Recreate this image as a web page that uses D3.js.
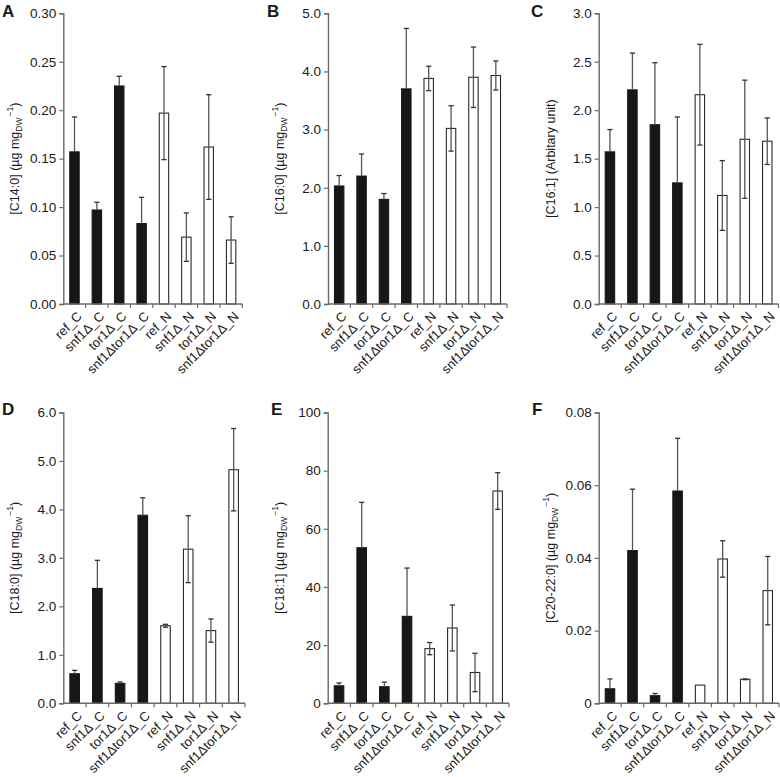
<!DOCTYPE html>
<html>
<head>
<meta charset="utf-8">
<script src="https://cdn.jsdelivr.net/npm/d3@7"></script>
<style>
  html, body { margin: 0; padding: 0; background: #fff; }
  svg { display: block; }
  text { font-family: "Liberation Sans", Arial, Helvetica, sans-serif; fill: #1a1a1a; }
</style>
</head>
<body>
<svg id="chart" width="780" height="777"></svg>
<script>
// ---- data ----
const categories = ["ref_C", "snf1Δ_C", "tor1Δ_C", "snf1Δtor1Δ_C", "ref_N", "snf1Δ_N", "tor1Δ_N", "snf1Δtor1Δ_N"];
const filled = [true, true, true, true, false, false, false, false];

const c140Mean = [0.157, 0.097, 0.225, 0.083, 0.197, 0.069, 0.162, 0.066];
const c140Err  = [0.036, 0.008, 0.010, 0.027, 0.048, 0.025, 0.054, 0.024];
const c140Ticks = [0, 0.05, 0.10, 0.15, 0.20, 0.25, 0.30];

const c160Mean = [2.03, 2.20, 1.80, 3.70, 3.88, 3.02, 3.90, 3.93];
const c160Err  = [0.18, 0.38, 0.10, 1.04, 0.21, 0.39, 0.52, 0.25];
const c160Ticks = [0, 1, 2, 3, 4, 5];

const c161Mean = [1.57, 2.21, 1.85, 1.25, 2.16, 1.12, 1.70, 1.68];
const c161Err  = [0.23, 0.38, 0.64, 0.68, 0.52, 0.36, 0.61, 0.24];
const c161Ticks = [0, 0.5, 1.0, 1.5, 2.0, 2.5, 3.0];

const c180Mean = [0.61, 2.37, 0.41, 3.88, 1.60, 3.18, 1.50, 4.82];
const c180Err  = [0.07, 0.58, 0.03, 0.36, 0.03, 0.69, 0.24, 0.85];
const c180Ticks = [0, 1, 2, 3, 4, 5, 6];

const c181Mean = [6.0, 53.5, 5.7, 29.9, 18.8, 25.9, 10.6, 73.0];
const c181Err  = [1.0, 15.6, 1.6, 16.6, 2.1, 7.9, 6.6, 6.3];
const c181Ticks = [0, 20, 40, 60, 80, 100];

const c2022Mean = [0.0040, 0.0420, 0.0021, 0.0584, 0.0050, 0.0397, 0.0066, 0.0310];
const c2022Err  = [0.0027, 0.0169, 0.0006, 0.0145, 0.0, 0.0050, 0.0001, 0.0094];
const c2022Ticks = [0, 0.02, 0.04, 0.06, 0.08];

const panelLetters = ["A", "B", "C", "D", "E", "F"];
const yTitles = ["[C14:0]", "[C16:0]", "[C16:1] (Arbitary unit)", "[C18:0]", "[C18:1]", "[C20-22:0]"];

// ---- layout ----
const panels = [
  { letter: "A", lx: 2,   ly: 17,  left: 63.3,  right: 242.3, top: 13.3,  bottom: 304,   mean: c140Mean,  err: c140Err,  ticks: c140Ticks,  fmt: d => d.toFixed(2), title: yTitles[0], unit: true },
  { letter: "B", lx: 267, ly: 17,  left: 328,   right: 507,   top: 13.3,  bottom: 304,   mean: c160Mean,  err: c160Err,  ticks: c160Ticks,  fmt: d => d.toFixed(1), title: yTitles[1], unit: true },
  { letter: "C", lx: 531, ly: 17,  left: 598.7, right: 778.5, top: 13.3,  bottom: 304,   mean: c161Mean,  err: c161Err,  ticks: c161Ticks,  fmt: d => d.toFixed(1), title: yTitles[2], unit: false },
  { letter: "D", lx: 2,   ly: 415, left: 63.3,  right: 245,   top: 412.5, bottom: 703.3, mean: c180Mean,  err: c180Err,  ticks: c180Ticks,  fmt: d => d.toFixed(1), title: yTitles[3], unit: true },
  { letter: "E", lx: 271, ly: 415, left: 327.7, right: 509,   top: 412.5, bottom: 703.3, mean: c181Mean,  err: c181Err,  ticks: c181Ticks,  fmt: d => String(d),    title: yTitles[4], unit: true },
  { letter: "F", lx: 532, ly: 415, left: 598.7, right: 779,   top: 412.5, bottom: 703.3, mean: c2022Mean, err: c2022Err, ticks: c2022Ticks, fmt: d => d === 0 ? "0" : d.toFixed(2), title: yTitles[5], unit: true }
];

const svg = d3.select("#chart");
const axisColor = "#6a6a6a";
const errColor = "#555";

panels.forEach(p => {
  const g = svg.append("g");
  const x = d3.scaleBand().domain(categories).range([p.left, p.right]).paddingInner(0.58).paddingOuter(0.29);
  const y = d3.scaleLinear().domain([p.ticks[0], p.ticks[p.ticks.length - 1]]).range([p.bottom, p.top]);
  const step = (p.right - p.left) / categories.length;

  // panel letter
  g.append("text").attr("x", p.lx).attr("y", p.ly)
    .attr("font-size", 17).attr("font-weight", "bold").text(p.letter);

  // bars
  const rows = categories.map((c, i) => ({ c, m: p.mean[i], e: p.err[i], f: filled[i] }));
  g.selectAll("rect.bar").data(rows).enter().append("rect")
    .attr("class", "bar")
    .attr("x", d => x(d.c))
    .attr("y", d => y(d.m))
    .attr("width", x.bandwidth())
    .attr("height", d => y(0) - y(d.m))
    .attr("fill", d => d.f ? "#171717" : "#ffffff")
    .attr("stroke", d => d.f ? "#171717" : "#2a2a2a")
    .attr("stroke-width", 1.1);

  // error bars
  const cap = 2.6;
  rows.forEach(d => {
    if (d.e <= 0) return;
    const cx = x(d.c) + x.bandwidth() / 2;
    const yTop = y(d.m + d.e);
    const yBot = d.f ? y(d.m) : y(d.m - d.e);
    g.append("line").attr("x1", cx).attr("x2", cx).attr("y1", yTop).attr("y2", yBot)
      .attr("stroke", errColor).attr("stroke-width", 1.3);
    g.append("line").attr("x1", cx - cap).attr("x2", cx + cap).attr("y1", yTop).attr("y2", yTop)
      .attr("stroke", "#333").attr("stroke-width", 1.3);
    if (!d.f) {
      g.append("line").attr("x1", cx - cap).attr("x2", cx + cap).attr("y1", yBot).attr("y2", yBot)
        .attr("stroke", "#333").attr("stroke-width", 1.3);
    }
  });

  // y axis
  const yAxis = d3.axisLeft(y).tickValues(p.ticks).tickFormat(p.fmt).tickSize(4).tickPadding(3);
  const ya = g.append("g").attr("transform", `translate(${p.left},0)`).call(yAxis);
  ya.select(".domain").attr("stroke", axisColor).attr("stroke-width", 1.4);
  ya.selectAll(".tick line").attr("stroke", axisColor).attr("stroke-width", 1.2);
  ya.selectAll(".tick text").attr("font-size", 13.5).attr("fill", "#1a1a1a")
    .attr("font-family", "'Liberation Sans', Arial, sans-serif");

  // x axis line + boundary ticks
  g.append("line").attr("x1", p.left).attr("x2", p.right).attr("y1", p.bottom).attr("y2", p.bottom)
    .attr("stroke", axisColor).attr("stroke-width", 1.4);
  d3.range(1, categories.length + 1).forEach(k => {
    const tx = p.left + k * step;
    g.append("line").attr("x1", tx).attr("x2", tx).attr("y1", p.bottom).attr("y2", p.bottom + 4)
      .attr("stroke", axisColor).attr("stroke-width", 1.2);
  });

  // x labels
  categories.forEach(c => {
    const cx = x(c) + x.bandwidth() / 2 + 5;
    const cy = p.bottom + 10;
    g.append("text").attr("transform", `translate(${cx},${cy}) rotate(-45)`)
      .attr("text-anchor", "end").attr("dy", "0.35em")
      .attr("font-size", 13).text(c);
  });

  // y title
  const tx = p.left - 44;
  const ty = (p.top + p.bottom) / 2;
  const t = g.append("text").attr("transform", `translate(${tx},${ty}) rotate(-90)`)
    .attr("text-anchor", "middle").attr("font-size", 12.5);
  if (p.unit) {
    t.append("tspan").text(p.title + " (µg mg");
    t.append("tspan").attr("font-size", 8.5).attr("dy", 3).text("DW");
    t.append("tspan").attr("font-size", 8.5).attr("dy", -9).attr("dx", 1).text("−1");
    t.append("tspan").attr("dy", 6).text(")");
  } else {
    t.text(p.title);
  }
});
</script>
</body>
</html>
